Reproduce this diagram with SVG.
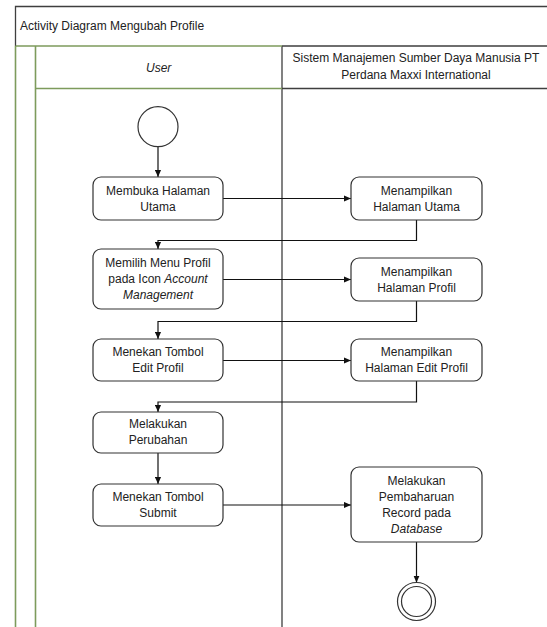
<svg xmlns="http://www.w3.org/2000/svg" width="547" height="627" viewBox="0 0 547 627">
<defs>
<style>
text{font-family:"Liberation Sans",Arial,sans-serif;font-size:12px;fill:#222;}
.c{text-anchor:middle;}
.i{font-style:italic;}
.box{fill:#fff;stroke:#333;stroke-width:1.2;}
.dark{stroke:#3f3f3f;stroke-width:1.3;fill:none;}
.green{stroke:#7d9b5c;stroke-width:1.6;fill:none;}
.conn{stroke:#111;stroke-width:1.2;fill:none;}
</style>
<marker id="arr" viewBox="0 0 8 8" refX="8" refY="4" markerWidth="7" markerHeight="7" markerUnits="userSpaceOnUse" orient="auto">
<path d="M0,0.5 L8,4 L0,7.5 Z" fill="#111"/>
</marker>
</defs>
<rect width="547" height="627" fill="#fff"/>
<g id="frame">
<path class="dark" d="M15.5,46 V6.5 H547"/>
<path class="dark" d="M282,46 H547 M282,88.5 H547 M282,46 V627"/>
<path class="green" d="M15.5,46 V627 M35.5,46 V627 M15.5,46 H282 M35.5,88.5 H282"/>
<text x="20" y="30">Activity Diagram Mengubah Profile</text>
<text class="c i" x="158.7" y="72">User</text>
<text class="c" x="416" y="62">Sistem Manajemen Sumber Daya Manusia PT</text>
<text class="c" x="416" y="79">Perdana Maxxi International</text>
</g>
<g id="connectors">
<path class="conn" d="M158,146.7 V177" marker-end="url(#arr)"/>
<path class="conn" d="M223,198.5 H351" marker-end="url(#arr)"/>
<path class="conn" d="M416.5,220 V240.5 H158 V249" marker-end="url(#arr)"/>
<path class="conn" d="M223,279.5 H351" marker-end="url(#arr)"/>
<path class="conn" d="M416.5,301 V321.5 H158 V339" marker-end="url(#arr)"/>
<path class="conn" d="M223,360.5 H351" marker-end="url(#arr)"/>
<path class="conn" d="M416.5,381 V402 H158 V412" marker-end="url(#arr)"/>
<path class="conn" d="M158,453 V484" marker-end="url(#arr)"/>
<path class="conn" d="M223,505 H351" marker-end="url(#arr)"/>
<path class="conn" d="M416.5,542 V582.5" marker-end="url(#arr)"/>
</g>
<g id="start"><circle cx="158" cy="126.7" r="20" fill="#fff" stroke="#333" stroke-width="1.2"/></g>
<g id="n1"><rect class="box" x="93" y="177" width="130" height="43" rx="8"/>
<text class="c" x="158" y="194.5">Membuka Halaman</text><text class="c" x="158" y="210.5">Utama</text></g>
<g id="r1"><rect class="box" x="351" y="177" width="131" height="43" rx="8"/>
<text class="c" x="416.5" y="194.5">Menampilkan</text><text class="c" x="416.5" y="210.5">Halaman Utama</text></g>
<g id="n2"><rect class="box" x="93" y="249" width="130" height="60" rx="8"/>
<text class="c" x="158" y="267">Memilih Menu Profil</text>
<text class="c" x="158" y="283">pada Icon <tspan class="i">Account</tspan></text>
<text class="c i" x="158" y="299">Management</text></g>
<g id="r2"><rect class="box" x="351" y="258" width="131" height="43" rx="8"/>
<text class="c" x="416.5" y="275.5">Menampilkan</text><text class="c" x="416.5" y="291.5">Halaman Profil</text></g>
<g id="n3"><rect class="box" x="93" y="339" width="130" height="42" rx="8"/>
<text class="c" x="158" y="356">Menekan Tombol</text><text class="c" x="158" y="372">Edit Profil</text></g>
<g id="r3"><rect class="box" x="351" y="339" width="131" height="42" rx="8"/>
<text class="c" x="416.5" y="356">Menampilkan</text><text class="c" x="416.5" y="372">Halaman Edit Profil</text></g>
<g id="n4"><rect class="box" x="93" y="412" width="130" height="41" rx="8"/>
<text class="c" x="158" y="428">Melakukan</text><text class="c" x="158" y="444">Perubahan</text></g>
<g id="n5"><rect class="box" x="93" y="484" width="130" height="42" rx="8"/>
<text class="c" x="158" y="501">Menekan Tombol</text><text class="c" x="158" y="517">Submit</text></g>
<g id="r4"><rect class="box" x="351" y="467" width="131" height="75" rx="8"/>
<text class="c" x="416.5" y="484.5">Melakukan</text><text class="c" x="416.5" y="500.5">Pembaharuan</text>
<text class="c" x="416.5" y="516.5">Record pada</text><text class="c i" x="416.5" y="532.5">Database</text></g>
<g id="end"><circle cx="416.5" cy="601.5" r="19" fill="#fff" stroke="#333" stroke-width="1.2"/>
<circle cx="416.5" cy="601.5" r="15" fill="none" stroke="#333" stroke-width="1.2"/></g>
</svg>
